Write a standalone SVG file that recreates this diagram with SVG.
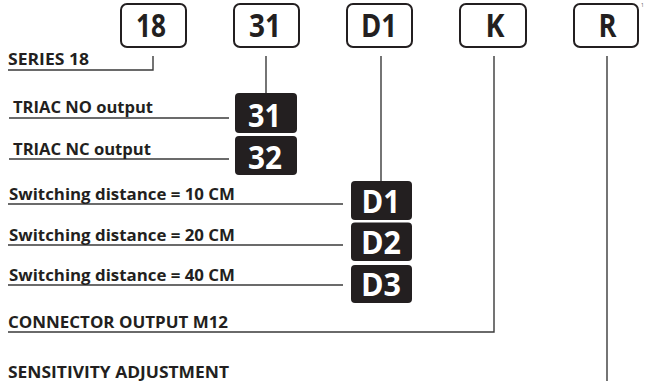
<svg xmlns="http://www.w3.org/2000/svg" width="645" height="381" viewBox="0 0 645 381">
<style>
.bg{fill:#ffffff}
.code{fill:#ffffff;stroke:#231f20;stroke-width:2}
.codet{font-family:"Open Sans","DejaVu Sans",sans-serif;font-weight:bold;font-size:32px;fill:#231f20}
.opt{fill:#231f20}
.optt{font-family:"Open Sans","DejaVu Sans",sans-serif;font-weight:bold;font-size:33px;fill:#ffffff}
.lbl{font-family:"Open Sans","DejaVu Sans",sans-serif;font-weight:bold;font-size:16px;fill:#231f20}
.ln{fill:none;stroke:#3a3a3a;stroke-width:1.4}
.tiny{font-family:"Open Sans",sans-serif;font-size:5px;fill:#555}
</style>
<rect class="bg" x="0" y="0" width="645" height="381"/>
<g id="connectors">
<polyline class="ln" points="153,56 153,70 8,70"/>
<line class="ln" x1="266" y1="56" x2="266" y2="93"/>
<line class="ln" x1="9" y1="118" x2="229" y2="118"/>
<line class="ln" x1="9" y1="159" x2="229" y2="159"/>
<line class="ln" x1="381" y1="56" x2="381" y2="181"/>
<line class="ln" x1="8" y1="204" x2="343" y2="204"/>
<line class="ln" x1="8" y1="245" x2="343" y2="245"/>
<line class="ln" x1="8" y1="285" x2="343" y2="285"/>
<polyline class="ln" points="494,56 494,332 8,332"/>
<line class="ln" x1="607" y1="56" x2="607" y2="381"/>
</g>
<g id="code-18">
<rect class="code" x="121" y="4" width="65" height="43" rx="6"/>
<text class="codet" x="136" y="37" textLength="30" lengthAdjust="spacingAndGlyphs">18</text>
</g>
<g id="code-31">
<rect class="code" x="234" y="4" width="65" height="43" rx="6"/>
<text class="codet" x="249" y="37" textLength="32" lengthAdjust="spacingAndGlyphs">31</text>
</g>
<g id="code-D1">
<rect class="code" x="347" y="4" width="65" height="43" rx="6"/>
<text class="codet" x="361" y="37" textLength="36" lengthAdjust="spacingAndGlyphs">D1</text>
</g>
<g id="code-K">
<rect class="code" x="460" y="4" width="66" height="43" rx="6"/>
<text class="codet" x="485.5" y="37" textLength="19" lengthAdjust="spacingAndGlyphs">K</text>
</g>
<g id="code-R">
<rect class="code" x="574" y="4" width="64" height="43" rx="6"/>
<text class="codet" x="598.5" y="37" textLength="18" lengthAdjust="spacingAndGlyphs">R</text>
</g>
<text class="tiny" x="641" y="7">1</text>
<g id="label-series">
<text class="lbl" x="8" y="65" textLength="81" lengthAdjust="spacingAndGlyphs">SERIES 18</text>
</g>
<g id="opt-31">
<text class="lbl" x="13" y="113" textLength="140" lengthAdjust="spacingAndGlyphs">TRIAC NO output</text>
<rect class="opt" x="235" y="93" width="62" height="40" rx="4"/>
<text class="optt" x="248" y="126.5" textLength="33" lengthAdjust="spacingAndGlyphs">31</text>
</g>
<g id="opt-32">
<text class="lbl" x="13" y="155" textLength="138" lengthAdjust="spacingAndGlyphs">TRIAC NC output</text>
<rect class="opt" x="235" y="136" width="62" height="39" rx="4"/>
<text class="optt" x="248" y="168.5" textLength="34" lengthAdjust="spacingAndGlyphs">32</text>
</g>
<g id="opt-D1">
<text class="lbl" x="9" y="200" textLength="226" lengthAdjust="spacingAndGlyphs">Switching distance = 10 CM</text>
<rect class="opt" x="351" y="181" width="61" height="39" rx="4"/>
<text class="optt" x="361.5" y="213" textLength="38.5" lengthAdjust="spacingAndGlyphs">D1</text>
</g>
<g id="opt-D2">
<text class="lbl" x="9" y="241" textLength="226" lengthAdjust="spacingAndGlyphs">Switching distance = 20 CM</text>
<rect class="opt" x="351" y="222.5" width="61" height="38.5" rx="4"/>
<text class="optt" x="361" y="254" textLength="40" lengthAdjust="spacingAndGlyphs">D2</text>
</g>
<g id="opt-D3">
<text class="lbl" x="9" y="281" textLength="226" lengthAdjust="spacingAndGlyphs">Switching distance = 40 CM</text>
<rect class="opt" x="351" y="265" width="61" height="38" rx="4"/>
<text class="optt" x="361" y="296" textLength="40" lengthAdjust="spacingAndGlyphs">D3</text>
</g>
<g id="label-connector">
<text class="lbl" x="8" y="328" textLength="220" lengthAdjust="spacingAndGlyphs">CONNECTOR OUTPUT M12</text>
</g>
<g id="label-sensitivity">
<text class="lbl" x="8" y="377.5" textLength="221" lengthAdjust="spacingAndGlyphs">SENSITIVITY ADJUSTMENT</text>
</g>
</svg>
